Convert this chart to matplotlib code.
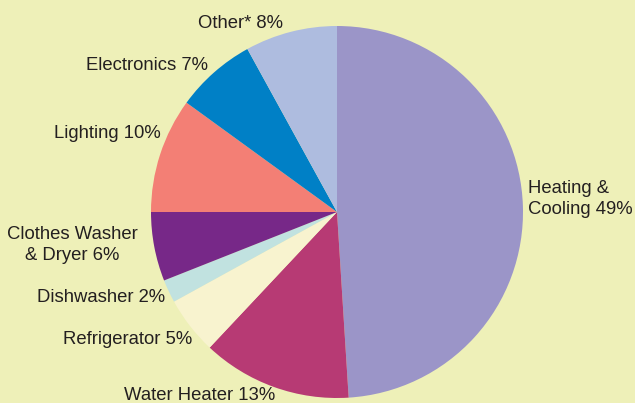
import matplotlib.pyplot as plt

plt.rcParams["font.family"] = ["Liberation Sans", "DejaVu Sans"]

categories = ["Heating &\nCooling", "Water Heater", "Refrigerator", "Dishwasher",
              "Clothes Washer\n& Dryer", "Lighting", "Electronics", "Other*"]
shares = [49, 13, 5, 2, 6, 10, 7, 8]
colors = ["#9B95C8", "#B73A74", "#F8F3CF", "#C1E2E0",
          "#772888", "#F37F75", "#0080C6", "#AEBCDF"]

bg = "#EEF0B8"
txt = "#231F20"

fig = plt.figure(figsize=(6.35, 4.03), dpi=100, facecolor=bg)
ax = fig.add_axes([0, 0, 1, 1])
ax.set_facecolor(bg)

# pie drawn in pixel-like units (origin bottom-left)
ax.pie(shares, colors=colors, startangle=90, counterclock=False,
       center=(337, 191), radius=186, wedgeprops=dict(linewidth=0))
ax.set_xlim(0, 635)
ax.set_ylim(0, 403)
ax.set_aspect("equal")
ax.axis("off")

# label anchors (x, y from bottom, ha)
label_pos = [
    (528, 204, "left", "left"),
    (200, 8, "center", "center"),
    (128, 63, "center", "center"),
    (101, 105, "center", "center"),
    (72, 158, "center", "center"),
    (107, 270, "center", "center"),
    (147, 338, "center", "center"),
    (241, 379, "center", "center"),
]

for name, val, (x, y, ha, ma) in zip(categories, shares, label_pos):
    ax.text(x, y, f"{name} {val}%", ha=ha, va="center", multialignment=ma,
            fontsize=13.3, color=txt, linespacing=1.35)

fig.savefig("out.png", dpi=100, facecolor=bg)
